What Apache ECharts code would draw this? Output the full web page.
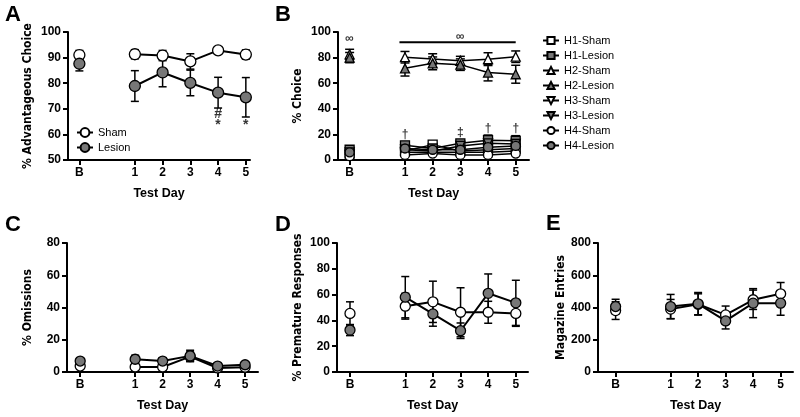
<!DOCTYPE html>
<html><head><meta charset="utf-8">
<script src="https://cdn.jsdelivr.net/npm/echarts@6/dist/echarts.min.js"></script>
<style>html,body{margin:0;padding:0;background:#fff}#c{width:800px;height:417px}</style>
</head><body><div id="c"></div>
<script>
// ---------- DATA ----------
const categories = ['B', '1', '2', '3', '4', '5'];

// Panel A: % Advantageous Choice
const shamA = [91.0, 91.3, 90.8, 88.5, 92.8, 91.2];
const shamAErr = [1.8, 1.8, 2.0, 3.0, 1.2, 1.8];
const lesionA = [87.6, 78.9, 84.2, 80.1, 76.3, 74.5];
const lesionAErr = [2.8, 6.0, 5.6, 5.0, 6.0, 7.7];
const annotA = [['4', 68.0, '#'], ['4', 63.6, '*'], ['5', 63.6, '*']];

// Panel B: % Choice per hole
const h1Sham = [5, 7, 12, 7, 8, 9];
const h1ShamErr = [1.5, 1.5, 1.5, 1.5, 2, 2];
const h1Lesion = [8, 11.5, 9, 13, 15.5, 15];
const h1LesionErr = [2, 2.5, 2, 2.5, 4, 4];
const h2Sham = [82.5, 80.3, 79.0, 77.5, 78.8, 80.7];
const h2ShamErr = [4, 4.5, 4, 3.5, 5, 4.5];
const h2Lesion = [80.0, 71.6, 75.5, 74.5, 68.3, 67.0];
const h2LesionErr = [4, 6, 5, 4.5, 6.5, 7];
const h3Sham = [4, 6, 6, 6, 6, 7];
const h3ShamErr = [1, 1.5, 1.5, 1.5, 1.5, 1.5];
const h3Lesion = [6, 8, 7, 11, 13, 12.5];
const h3LesionErr = [1.5, 2, 2, 2.5, 3, 3];
const h4Sham = [3, 4, 5, 4, 4, 5];
const h4ShamErr = [1, 1, 1, 1, 1.5, 1.5];
const h4Lesion = [6, 9, 8, 8, 10, 11];
const h4LesionErr = [1.5, 2, 2, 2, 3, 3];
const annotB = [['B', 94.5, '∞'], ['3', 96.5, '∞'], ['1', 19.5, '†'], ['3', 21.5, '‡'], ['4', 24.5, '†'], ['5', 24.5, '†']];
const sigLineB = { from: '1', to: '5', y: 92 };

// Panel C: % Omissions
const shamC = [3.7, 3.1, 3.1, 9.5, 2.5, 3.0];
const shamCErr = [0.6, 0.8, 0.8, 3.0, 0.6, 0.8];
const lesionC = [6.8, 7.9, 6.8, 10.0, 3.7, 4.5];
const lesionCErr = [1.0, 2.5, 2.0, 3.5, 1.0, 1.5];

// Panel D: % Premature Responses
const shamD = [45.4, 51.0, 54.4, 46.3, 46.3, 45.4];
const shamDErr = [9, 10, 16, 19, 8.5, 10];
const lesionD = [32.5, 58.0, 45.0, 32.0, 61.0, 53.6];
const lesionDErr = [4.3, 16, 9.5, 6, 15, 17.5];

// Panel E: Magazine Entries
const shamE = [381, 390, 420, 354, 448, 485];
const shamEErr = [55, 60, 65, 55, 60, 70];
const lesionE = [406, 406, 423, 317, 427, 427];
const lesionEErr = [45, 75, 70, 50, 90, 75];

// ---------- BUILD ----------
const FONT = '"Liberation Sans", Arial, sans-serif';
const NARROW = '"Liberation Sans Narrow", "DejaVu Sans Condensed", "Liberation Sans", sans-serif';
const GRAY = '#777777';
const pos = c => (c === 'B' ? 0 : Number(c) + 1);
const xPositions = categories.map(pos);

function lineData(vals) {
  const out = [];
  categories.forEach((c, i) => {
    out.push([pos(c), vals[i]]);
    if (c === 'B') out.push([pos(c) + 1, '-']);
  });
  return out;
}
function errData(vals, errs) {
  return categories.map((c, i) => [pos(c), vals[i], errs[i]]);
}

function errSeries(gi, vals, errs, cap, lw) {
  return {
    type: 'custom', xAxisIndex: gi, yAxisIndex: gi, z: 1, silent: true,
    data: errData(vals, errs),
    renderItem: function (params, api) {
      const x = api.value(0), y = api.value(1), e = api.value(2);
      const t = api.coord([x, y + e]), b = api.coord([x, y - e]);
      const st = { stroke: '#000', lineWidth: lw };
      return {
        type: 'group', children: [
          { type: 'line', shape: { x1: t[0], y1: t[1], x2: b[0], y2: b[1] }, style: st },
          { type: 'line', shape: { x1: t[0] - cap, y1: t[1], x2: t[0] + cap, y2: t[1] }, style: st },
          { type: 'line', shape: { x1: b[0] - cap, y1: b[1], x2: b[0] + cap, y2: b[1] }, style: st }
        ]
      };
    }
  };
}

function lineSeries(gi, name, vals, fill, symbol, size, lw, z, rot) {
  return {
    type: 'line', name: name, xAxisIndex: gi, yAxisIndex: gi, z: z,
    data: lineData(vals), symbol: symbol, symbolSize: size, symbolRotate: rot || 0,
    showAllSymbol: true, connectNulls: false, animation: false,
    lineStyle: { color: '#000', width: lw },
    itemStyle: { color: fill, borderColor: '#000', borderWidth: 1.3, opacity: 1 },
    emphasis: { disabled: true }
  };
}

function annotSeries(gi, list, size, weight) {
  return {
    type: 'scatter', xAxisIndex: gi, yAxisIndex: gi, z: 10, symbolSize: 1, silent: true,
    itemStyle: { color: 'rgba(0,0,0,0)' },
    data: list.map(a => ({ value: [pos(a[0]), a[1]], name: a[2] })),
    label: { show: true, position: 'inside', formatter: '{b}', color: '#000', fontSize: size, fontWeight: weight, fontFamily: FONT }
  };
}

const grids = [
  { left: 68, top: 32, width: 182, height: 128, xmin: -0.41, xmax: 6.15, ymin: 50, ymax: 100, yint: 10, yname: '% Advantageous Choice', ngap: 34 },
  { left: 338, top: 32, width: 191, height: 128, xmin: -0.42, xmax: 6.48, ymin: 0, ymax: 100, yint: 20, yname: '% Choice', ngap: 34 },
  { left: 67, top: 243, width: 191, height: 129, xmin: -0.48, xmax: 6.47, ymin: 0, ymax: 80, yint: 20, yname: '% Omissions', ngap: 33 },
  { left: 337, top: 243, width: 191, height: 129, xmin: -0.47, xmax: 6.44, ymin: 0, ymax: 100, yint: 20, yname: '% Premature Responses', ngap: 33 },
  { left: 598, top: 243, width: 195, height: 129, xmin: -0.64, xmax: 6.45, ymin: 0, ymax: 800, yint: 200, yname: 'Magazine Entries', ngap: 30 }
];

const axisLine = { show: true, onZero: false, lineStyle: { color: '#000', width: 2 } };
const tick = { show: true, length: 5, inside: false, lineStyle: { color: '#000', width: 2 } };
const lbl = { color: '#000', fontSize: 12, fontWeight: 'bold', fontFamily: FONT };

const option = {
  animation: false,
  backgroundColor: '#fff',
  grid: grids.map(g => ({ left: g.left, top: g.top, width: g.width, height: g.height, containLabel: false, outerBoundsMode: 'none' })),
  xAxis: grids.map((g, i) => ({
    type: 'value', gridIndex: i, min: g.xmin, max: g.xmax,
    name: 'Test Day', nameLocation: 'middle', nameGap: 27,
    nameTextStyle: { color: '#000', fontSize: 12.5, fontWeight: 'bold', fontFamily: FONT },
    axisLine: axisLine,
    axisTick: Object.assign({}, tick, { customValues: xPositions }),
    axisLabel: Object.assign({}, lbl, { margin: 7, customValues: xPositions, formatter: v => categories[xPositions.indexOf(v)] || '' }),
    splitLine: { show: false }
  })),
  yAxis: grids.map((g, i) => ({
    type: 'value', gridIndex: i, min: g.ymin, max: g.ymax, interval: g.yint,
    name: g.yname, nameLocation: 'middle', nameGap: g.ngap, nameRotate: 90,
    nameTextStyle: { color: '#000', fontSize: 12, fontWeight: 'bold', fontFamily: NARROW },
    axisLine: axisLine, axisTick: tick,
    axisLabel: Object.assign({}, lbl, { margin: 7 }),
    splitLine: { show: false }
  })),
  legend: [
    { data: ['Sham', 'Lesion'], orient: 'vertical', left: 71, top: 122, itemWidth: 16, itemHeight: 11, itemGap: 4,
      textStyle: { color: '#000', fontSize: 11, fontFamily: FONT }, selectedMode: false },
    { data: ['H1-Sham', 'H1-Lesion', 'H2-Sham', 'H2-Lesion', 'H3-Sham', 'H3-Lesion', 'H4-Sham', 'H4-Lesion'],
      orient: 'vertical', left: 537, top: 30, itemWidth: 16, itemHeight: 9, itemGap: 4,
      textStyle: { color: '#000', fontSize: 11, fontFamily: FONT }, selectedMode: false }
  ],
  graphic: [
    ['A', 5, 4], ['B', 275, 4], ['C', 5, 214], ['D', 275, 214], ['E', 546, 213]
  ].map(p => ({ type: 'text', left: p[1], top: p[2], style: { text: p[0], fill: '#000', font: 'bold 22px ' + FONT } })),
  series: []
};

const S = option.series;
// A
S.push(errSeries(0, shamA, shamAErr, 4, 1.5), errSeries(0, lesionA, lesionAErr, 4, 1.5));
S.push(lineSeries(0, 'Sham', shamA, '#fff', 'circle', 11, 2, 3));
S.push(lineSeries(0, 'Lesion', lesionA, GRAY, 'circle', 11, 2, 4));
S.push(annotSeries(0, annotA, 14, 'bold'));
// B
const bSets = [
  ['H1-Sham', h1Sham, h1ShamErr, '#fff', 'rect', 0],
  ['H1-Lesion', h1Lesion, h1LesionErr, GRAY, 'rect', 0],
  ['H2-Sham', h2Sham, h2ShamErr, '#fff', 'triangle', 0],
  ['H2-Lesion', h2Lesion, h2LesionErr, GRAY, 'triangle', 0],
  ['H3-Sham', h3Sham, h3ShamErr, '#fff', 'triangle', 180],
  ['H3-Lesion', h3Lesion, h3LesionErr, GRAY, 'triangle', 180],
  ['H4-Sham', h4Sham, h4ShamErr, '#fff', 'circle', 0],
  ['H4-Lesion', h4Lesion, h4LesionErr, GRAY, 'circle', 0]
];
bSets.forEach(s => { S.push(errSeries(1, s[1], s[2], 4.5, 1.5)); });
bSets.forEach((s, k) => { S.push(lineSeries(1, s[0], s[1], s[3], s[4], 9, 1.5, 3 + k, s[5])); });
S.push(annotSeries(1, annotB, 12, 'bold'));
S.push({
  type: 'line', xAxisIndex: 1, yAxisIndex: 1, z: 5, symbol: 'none', silent: true,
  data: [[pos(sigLineB.from) - 0.2, sigLineB.y], [pos(sigLineB.to), sigLineB.y]],
  lineStyle: { color: '#000', width: 1.8 }
});
// C
S.push(errSeries(2, shamC, shamCErr, 4, 1.5), errSeries(2, lesionC, lesionCErr, 4, 1.5));
S.push(lineSeries(2, 'Sham', shamC, '#fff', 'circle', 10, 2, 3));
S.push(lineSeries(2, 'Lesion', lesionC, GRAY, 'circle', 10, 2, 4));
// D
S.push(errSeries(3, shamD, shamDErr, 4, 1.5), errSeries(3, lesionD, lesionDErr, 4, 1.5));
S.push(lineSeries(3, 'Sham', shamD, '#fff', 'circle', 10, 2, 3));
S.push(lineSeries(3, 'Lesion', lesionD, GRAY, 'circle', 10, 2, 4));
// E
S.push(errSeries(4, shamE, shamEErr, 4, 1.5), errSeries(4, lesionE, lesionEErr, 4, 1.5));
S.push(lineSeries(4, 'Sham', shamE, '#fff', 'circle', 10, 2, 3));
S.push(lineSeries(4, 'Lesion', lesionE, GRAY, 'circle', 10, 2, 4));

const chart = echarts.init(document.getElementById('c'), null, { renderer: 'canvas' });
chart.setOption(option);
</script>
</body></html>
